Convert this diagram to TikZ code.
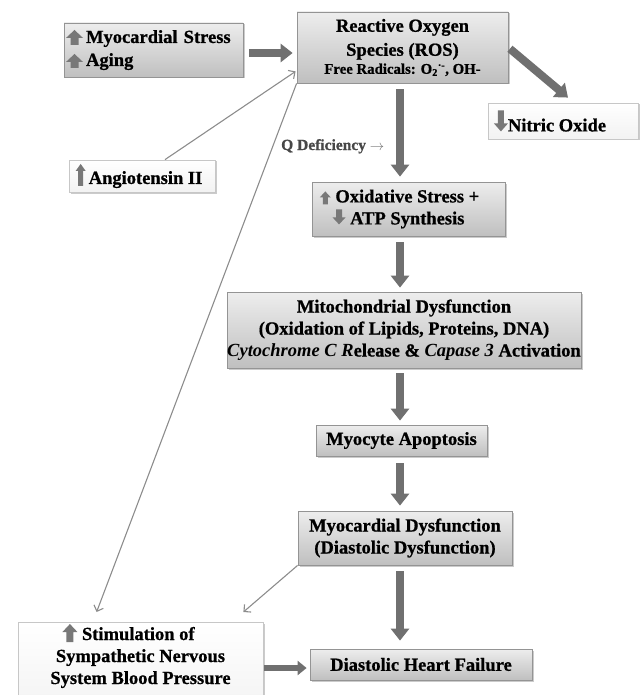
\documentclass[tikz,border=0pt]{standalone}
\usepackage{fontspec}
\setmainfont{Liberation Serif}[BoldFeatures={FakeBold=0.8}]
\usetikzlibrary{arrows.meta,shadows,calc}
\definecolor{icongray}{RGB}{120,120,120}
\definecolor{blkgray}{RGB}{112,112,112}
\definecolor{thingray}{RGB}{140,140,140}
\newcommand\mainfnt{\fontsize{18.5}{22}\selectfont\bfseries}
% up icon: width, height, stem width, head length
\newcommand\upico[4]{\tikz[baseline=2pt,x=1pt,y=1pt]\fill[icongray] (-#3/2,0) -- (-#3/2,#2-#4) -- (-#1/2,#2-#4) -- (0,#2) -- (#1/2,#2-#4) -- (#3/2,#2-#4) -- (#3/2,0) -- cycle;}
\newcommand\dnico[4]{\tikz[baseline=0pt,x=1pt,y=1pt]\fill[icongray] (-#3/2,#2) -- (-#3/2,#4) -- (-#1/2,#4) -- (0,0) -- (#1/2,#4) -- (#3/2,#4) -- (#3/2,#2) -- cycle;}
\begin{document}
\begin{tikzpicture}[x=1pt,y=-1pt,
  box/.style={draw=black!42, line width=0.8pt, top color=black!7, bottom color=black!25,
    drop shadow={shadow xshift=1.5pt, shadow yshift=-1.5pt, fill=black!45, opacity=0.45},
    inner sep=0pt, align=center, font=\mainfnt},
  lbox/.style={box, draw=black!22, top color=white, bottom color=black!5},
  blk/.style={draw=blkgray, line width=8pt, -{Triangle[width=18pt,length=12pt]}},
  blksmall/.style={draw=blkgray, line width=6pt, -{Triangle[width=14pt,length=9pt]}},
  thinarr/.style={draw=thingray, line width=1.1pt, -{Straight Barb[length=5pt,width=10pt]}},
]
\useasboundingbox (0,0) rectangle (640,695);

\node[box, minimum width=179pt, minimum height=54pt, text width=175pt, align=left,
  font=\fontsize{18.5}{23}\selectfont\bfseries] (ms) at (153.5,50)
  {\upico{17}{15}{8}{8}\,Myocardial Stress\\\upico{17}{14}{8}{8}\,Aging};

\node[box, minimum width=211pt, minimum height=71pt] (ros) at (402.5,47.5)
  {Reactive Oxygen\\[2pt]Species (ROS)\\[-4pt]{\fontsize{14.8}{16}\selectfont Free Radicals: O\textsubscript{2}\textsuperscript{·-}, OH-}};

\node[lbox, minimum width=150pt, minimum height=36pt] (no) at (563,121)
  {\dnico{14}{21}{6}{8}Nitric Oxide\hspace*{26pt}};

\node[lbox, minimum width=146pt, minimum height=32pt] (ang) at (142,176)
  {\upico{10}{22}{5}{7}\,Angiotensin II\hspace*{6pt}};

\node[box, minimum width=193pt, minimum height=54pt] (ox) at (408.5,209)
  {\upico{11}{13}{5}{6}~Oxidative Stress +\hspace*{18pt}\\\dnico{13}{15}{6}{7}~ATP Synthesis\hspace*{20pt}};

\node[box, minimum width=354pt, minimum height=76pt] (mito) at (404,330)
  {Mitochondrial Dysfunction\\(Oxidation of Lipids, Proteins, DNA)\\\textit{Cytochrome C R}elease \& \textit{Capase 3} Activation};

\node[box, minimum width=171pt, minimum height=31pt] (myo) at (401.5,440.5) {Myocyte Apoptosis};

\node[box, minimum width=214pt, minimum height=54pt] (md) at (405,538)
  {Myocardial Dysfunction\\(Diastolic Dysfunction)};

\node[box, minimum width=222pt, minimum height=31pt] (dhf) at (421,664.5) {Diastolic Heart Failure};

\node[lbox, minimum width=245pt, minimum height=95pt, anchor=north] (stimbox) at (140.5,622) {};
\node[inner sep=0pt, align=center, font=\mainfnt] (stim) at (140.5,656)
  {\upico{15}{18}{7}{8}~Stimulation of\hspace*{24pt}\\Sympathetic Nervous\\System Blood Pressure};

\node[anchor=base west, inner sep=0pt, font=\fontsize{15.5}{17}\selectfont\bfseries, text=black!72] (q) at (281,150)
  {Q Deficiency {\color{black!55}$\rightarrow$}};

% block arrows
\coordinate (col) at (400,0);
\draw[blk, shorten <=6pt, shorten >=4pt] ($(ms.east)+(0,3)$) -- ($(ms.east -| ros.west)+(0,3)$);
\draw[blk, shorten <=2pt] (ros.east) -- ($(no.north)+(5,-5)$);
\draw[blk, shorten <=6pt, shorten >=5pt] (col |- ros.south) -- (col |- ox.north);
\draw[blk, shorten <=6pt, shorten >=4pt] (col |- ox.south) -- (col |- mito.north);
\draw[blk, shorten <=5pt, shorten >=4pt] (col |- mito.south) -- (col |- myo.north);
\draw[blk, shorten <=7pt, shorten >=5pt] (col |- myo.south) -- (col |- md.north);
\draw[blk, shorten <=6pt, shorten >=8pt] (col |- md.south) -- (col |- dhf.north);
\coordinate (dhfin) at ($(dhf.west)+(0,3.5)$);
\draw[blksmall, shorten <=1pt, shorten >=3pt] (stimbox.east |- dhfin) -- (dhfin);

% thin arrows
\draw[thinarr] ($(ang.north)+(23,0)$) -- ($(ros.south west)+(-1,-12)$);
\draw[thinarr] (ros.south west) -- ($(stimbox.north west)+(79,-10)$);
\draw[thinarr] (md.south west) -- ($(stimbox.north east)+(-20,-10)$);
\end{tikzpicture}
\end{document}
